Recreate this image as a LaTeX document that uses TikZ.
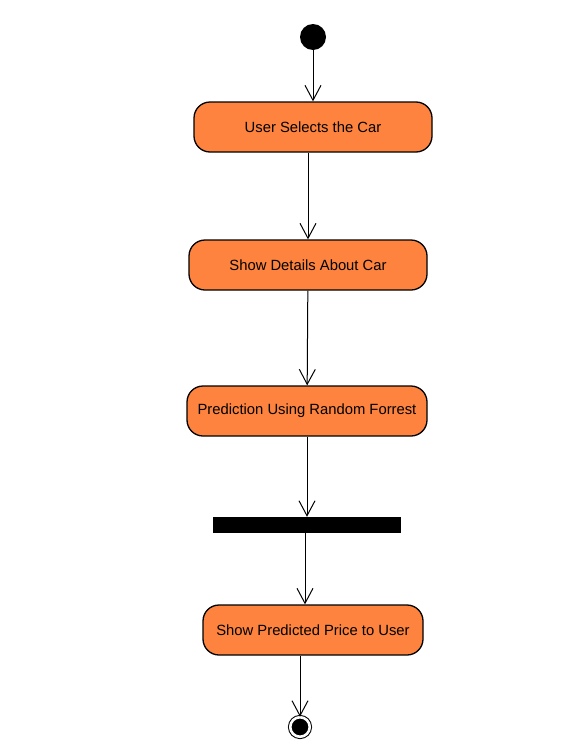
\documentclass[tikz,border=0pt]{standalone}
\usepackage{fontspec}
\setmainfont{Liberation Sans}
\usetikzlibrary{arrows.meta}
\definecolor{actorange}{RGB}{253,131,62}
\begin{document}
\begin{tikzpicture}[x=1pt, y=-1pt]
		\tikzset{act/.style={rectangle, rounded corners=16pt, draw=black, line width=1.3pt, fill=actorange, minimum height=50pt, inner sep=0pt, font=\fontsize{14.8}{17}\selectfont}};
		\tikzset{flow/.style={line width=1pt, -{Straight Barb[length=15pt, width=16pt, line width=1pt]}}};

		\useasboundingbox (0, 0) rectangle (572, 755);

		\node[circle, fill=black, minimum size=26pt, inner sep=0pt] (start) at (313, 37) {};
		\node[act, minimum width=238pt] (select) at (313, 127) {User Selects the Car};
		\node[act, minimum width=238pt] (details) at (308, 265) {Show Details About Car};
		\node[act, minimum width=240pt] (predict) at (307, 411) {Prediction Using Random Forrest};
		\node[rectangle, fill=black, minimum width=188pt, minimum height=16pt, inner sep=0pt] (bar) at (307, 525) {};
		\node[act, minimum width=220pt] (price) at (313, 630) {Show Predicted Price to User};
		\node[circle, draw=black, fill=black, line width=1pt, double=white, double distance=2.6pt, minimum size=19.5pt, inner sep=0pt] (end) at (300, 727) {};

		\draw[flow] (start) to (select);
		\draw[flow] (select.south -| details) to (details);
		\draw[flow] (details) to (predict);
		\draw[flow] (predict) to (bar);
		\draw[flow] (bar.south -| 305, 0) to (price.north -| 305, 0);
		\draw[flow] (price.south -| end) to (end);

	\end{tikzpicture}
\end{document}
